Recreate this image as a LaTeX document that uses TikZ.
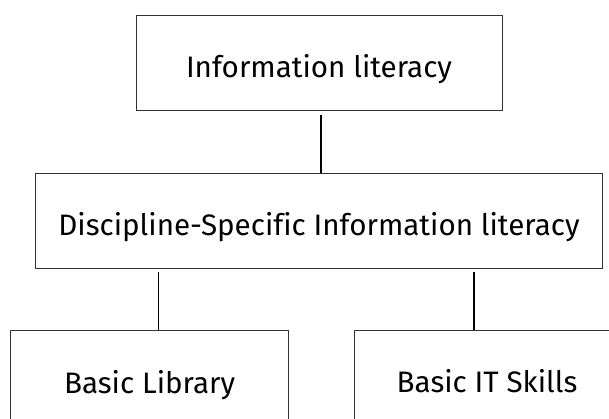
\documentclass[tikz,border=0pt]{standalone}
\usepackage{fontspec}
\setmainfont[Ligatures=NoCommon]{Fira Sans}
\tikzset{
  box/.style={draw=black!80, line width=0.9pt, rectangle, inner sep=0pt,
    minimum height=95pt, text height=30pt, text depth=0pt,
    font=\fontsize{29.6}{34}\selectfont},
  link/.style={draw=black, line width=1.6pt}
}
\begin{document}
\begin{tikzpicture}[x=1pt, y=-1pt]
  \useasboundingbox (0,0) rectangle (609,419);
  \clip (0,0) rectangle (609,419);
  % hierarchy boxes
  \node[box, minimum width=366pt] (info) at (319,62.5) {Information literacy};
  \node[box, minimum width=566.6pt] (disc) at (319,221) {Discipline-Specific Information literacy};
  \node[box, minimum width=277.8pt] (lib) at (149.6,378) {Basic Library};
  \node[box, minimum width=266pt] (it) at (487,377.5) {Basic IT Skills};
  % connectors
  \draw[link, shorten <=4.7pt] ([xshift=2pt]info.south) -- ([xshift=2pt]info.south |- disc.north);
  \draw[link, shorten <=3.2pt] ([xshift=9pt]lib.north |- disc.south) -- ([xshift=9pt]lib.north);
  \draw[link, shorten <=3.2pt] ([xshift=-13.3pt]it.north |- disc.south) -- ([xshift=-13.3pt]it.north);
\end{tikzpicture}
\end{document}
